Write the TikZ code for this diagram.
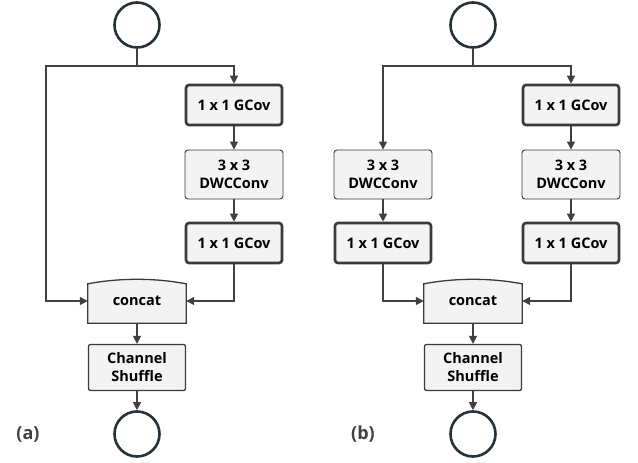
\documentclass[tikz,border=0pt]{standalone}
\usepackage{fontspec}
\setmainfont{Open Sans}
\usetikzlibrary{arrows.meta,calc,backgrounds}

\definecolor{boxfill}{HTML}{F3F3F3}
\definecolor{boxline}{HTML}{3A3A3A}
\definecolor{ioline}{HTML}{263238}
\definecolor{wire}{HTML}{404040}

\begin{document}
\begin{tikzpicture}[
    x=1pt, y=-1pt,
    font=\bfseries\fontsize{14.5}{18}\selectfont,
    io/.style={circle, draw=ioline, line width=2.6pt, minimum size=45pt, inner sep=0pt},
    gconv/.style={rectangle, rounded corners=3pt, fill=boxfill, draw=boxline, line width=2.6pt, minimum width=96pt, minimum height=40pt, align=center},
    dwconv/.style={rectangle, rounded corners=3pt, fill=boxfill, draw=boxline, line width=0.9pt, minimum width=98pt, minimum height=49pt, align=center, inner sep=1pt},
    shuffle/.style={rectangle, rounded corners=2pt, fill=boxfill, draw=boxline, line width=1.3pt, minimum width=97pt, minimum height=46pt, align=center, inner sep=1pt},
    concat/.style={rectangle, minimum width=98pt, minimum height=44pt},
    catshape/.style={fill=boxfill, draw=boxline, line width=1.3pt},
    conn/.style={draw=wire, line width=1.3pt, -{Triangle[length=8pt,width=8pt]}},
    lbl/.style={font=\bfseries\fontsize{18}{20}\selectfont, text=wire},
]

% Page frame
\useasboundingbox (0,0) rectangle (638,463);

% ---------- (a) ----------
\node[io] (inA) at (137,25) {};
\coordinate (spA) at (137,66);
\coordinate (bendA) at (46,66);

\node[gconv]  (g1A) at (234,105)   {1 x 1 GCov};
\node[dwconv] (dwA) at (234,174.5) {3 x 3\\DWCConv};
\node[gconv]  (g2A) at (234,243)   {1 x 1 GCov};

\node[concat]  (catA) at (137,301)   {concat};
\node[shuffle] (shA)  at (137,367.5) {Channel\\Shuffle};
\node[io]      (outA) at (137,434)   {};

% Concat outline with arched top
\begin{pgfonlayer}{background}
\draw[catshape] (catA.south west) -- ($(catA.north west)+(0,5)$)
    .. controls ($(catA.north west)+(32,-1)$) and ($(catA.north east)+(-32,-1)$) .. ($(catA.north east)+(0,5)$)
    -- (catA.south east) -- cycle;
\end{pgfonlayer}

\draw[draw=wire, line width=1.3pt] (inA) -- (spA);
\draw[conn] (spA) -| (g1A);
\draw[conn] (spA) -- (bendA) |- (catA.west);
\draw[conn] (g1A) -- (dwA);
\draw[conn] (dwA) -- (g2A);
\draw[conn] (g2A) |- (catA.east);
\draw[conn] (catA) -- (shA);
\draw[conn] (shA) -- (outA);

\node[lbl] (labA) at (28,434) {(a)};

% ---------- (b) ----------
\node[io] (inB) at (473,25) {};
\coordinate (spB) at (473,66);

% left branch
\node[dwconv] (dwB1) at (383,174.5) {3 x 3\\DWCConv};
\node[gconv]  (gB1)  at (383,243)   {1 x 1 GCov};

% right branch
\node[gconv]  (gB2)  at (571,105)   {1 x 1 GCov};
\node[dwconv] (dwB2) at (571,174.5) {3 x 3\\DWCConv};
\node[gconv]  (gB3)  at (571,243)   {1 x 1 GCov};

\node[concat]  (catB) at (473,301)   {concat};
\node[shuffle] (shB)  at (473,367.5) {Channel\\Shuffle};
\node[io]      (outB) at (473,434)   {};

\begin{pgfonlayer}{background}
\draw[catshape] (catB.south west) -- ($(catB.north west)+(0,5)$)
    .. controls ($(catB.north west)+(32,-1)$) and ($(catB.north east)+(-32,-1)$) .. ($(catB.north east)+(0,5)$)
    -- (catB.south east) -- cycle;
\end{pgfonlayer}

\draw[draw=wire, line width=1.3pt] (inB) -- (spB);
\draw[conn] (spB) -| (dwB1);
\draw[conn] (spB) -| (gB2);
\draw[conn] (dwB1) -- (gB1);
\draw[conn] (gB2) -- (dwB2);
\draw[conn] (dwB2) -- (gB3);
\draw[conn] (gB1) |- (catB.west);
\draw[conn] (gB3) |- (catB.east);
\draw[conn] (catB) -- (shB);
\draw[conn] (shB) -- (outB);

\node[lbl] (labB) at (363,434) {(b)};

\end{tikzpicture}
\end{document}
